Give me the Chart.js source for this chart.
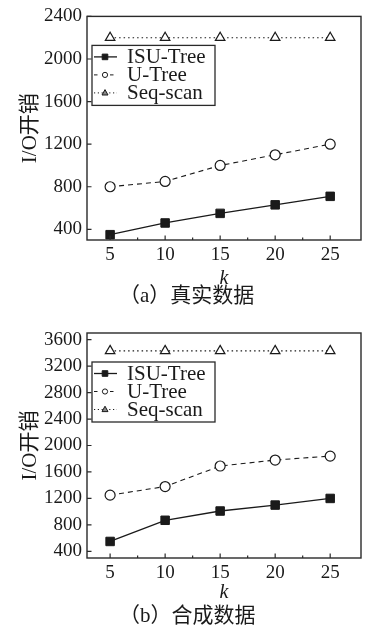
<!DOCTYPE html>
<html><head><meta charset="utf-8">
<script src="https://cdn.jsdelivr.net/npm/chart.js@4/dist/chart.umd.min.js"></script>
<style>
html,body{margin:0;padding:0;background:#fff;}
#wrap{position:relative;width:368px;height:630px;overflow:hidden;}
canvas{position:absolute;left:0;}
</style></head>
<body><div id="wrap">
<canvas id="c1" width="368" height="310" style="top:0"></canvas>
<canvas id="c2" width="368" height="320" style="top:310px"></canvas>
</div>
<script>
const kValues = [5, 10, 15, 20, 25];
const seriesNames = ['ISU-Tree', 'U-Tree', 'Seq-scan'];
const realISU = [350, 460, 550, 630, 710];
const realU = [800, 850, 1000, 1100, 1200];
const realSeq = [2200, 2200, 2200, 2200, 2200];
const synISU = [550, 870, 1010, 1100, 1200];
const synU = [1250, 1380, 1690, 1780, 1840];
const synSeq = [3430, 3430, 3430, 3430, 3430];
const yTicksReal = [400, 800, 1200, 1600, 2000, 2400];
const yTicksSyn = [400, 800, 1200, 1600, 2000, 2400, 2800, 3200, 3600];
const xTicks = [5, 10, 15, 20, 25];
const xMinorTicks = [7.5, 12.5, 17.5, 22.5];
const yTitle = 'I/O开销';
const xTitle = 'k';
const captionReal = '（a）真实数据';
const captionSyn = '（b）合成数据';

const INK = '#1a1a1a';
const SERIF = '"Liberation Serif", "Noto Sans CJK SC", serif';

function pts(vals) { return kValues.map((k, i) => ({x: k, y: vals[i]})); }

function drawMarker(ctx, style, x, y, r, fill) {
  ctx.beginPath();
  if (style === 'rect') {
    ctx.rect(x - r, y - r, 2 * r, 2 * r);
  } else if (style === 'circle') {
    ctx.arc(x, y, r, 0, Math.PI * 2);
  } else {
    ctx.moveTo(x, y - r * 1.1);
    ctx.lineTo(x + r, y + r * 0.7);
    ctx.lineTo(x - r, y + r * 0.7);
    ctx.closePath();
  }
  ctx.fillStyle = fill;
  ctx.fill();
  ctx.lineWidth = 1;
  ctx.strokeStyle = INK;
  ctx.stroke();
}

const decorPlugin = {
  id: 'decor',
  afterDraw(chart, args, opts) {
    const {ctx, chartArea: ca, scales} = chart;
    ctx.save();
    ctx.strokeStyle = '#2a2a2a';
    ctx.lineWidth = 1.4;
    ctx.strokeRect(ca.left, ca.top, ca.right - ca.left, ca.bottom - ca.top);
    ctx.lineWidth = 1.2;
    ctx.beginPath();
    xTicks.forEach(v => { const px = scales.x.getPixelForValue(v); ctx.moveTo(px, ca.bottom); ctx.lineTo(px, ca.bottom - 4.5); });
    xMinorTicks.forEach(v => { const px = scales.x.getPixelForValue(v); ctx.moveTo(px, ca.bottom); ctx.lineTo(px, ca.bottom - 2.5); });
    opts.yTicks.forEach(v => { const py = scales.y.getPixelForValue(v); ctx.moveTo(ca.left, py); ctx.lineTo(ca.left + 4.5, py); });
    ctx.stroke();
    const bx = ca.left + 5, by = ca.top + 29, bw = 123, bh = 60;
    ctx.fillStyle = '#fff';
    ctx.fillRect(bx, by, bw, bh);
    ctx.lineWidth = 1.3;
    ctx.strokeStyle = '#2a2a2a';
    ctx.strokeRect(bx, by, bw, bh);
    const styles = [
      {dash: [], marker: 'rect', r: 2.8, fill: INK, lw: 1.3},
      {dash: [3.5, 4.5], marker: 'circle', r: 2.6, fill: '#fff', lw: 1},
      {dash: [1.2, 2.6], marker: 'triangle', r: 3, fill: '#888', lw: 1}
    ];
    seriesNames.forEach((name, i) => {
      const cy = by + 11.5 + i * 18;
      const s = styles[i];
      ctx.save();
      ctx.setLineDash(s.dash);
      ctx.lineWidth = s.lw;
      ctx.strokeStyle = INK;
      ctx.beginPath();
      ctx.moveTo(bx + 2, cy); ctx.lineTo(bx + 25, cy);
      ctx.stroke();
      ctx.restore();
      drawMarker(ctx, s.marker, bx + 13, cy, s.r, s.fill);
      ctx.fillStyle = INK;
      ctx.font = '21px ' + SERIF;
      ctx.textBaseline = 'middle';
      ctx.textAlign = 'left';
      ctx.fillText(name, bx + 35, cy + 1);
    });
    ctx.fillStyle = INK;
    ctx.font = '21px ' + SERIF;
    ctx.textBaseline = 'middle';
    ctx.textAlign = 'left';
    ctx.fillText(opts.caption, 119, opts.captionY);
    ctx.restore();
  }
};

function makeChart(id, isu, u, seq, yTicks, yMin, yMax, padTop, xHeight, kPad, caption, captionY) {
  return new Chart(document.getElementById(id), {
    type: 'line',
    data: {
      datasets: [
        {label: seriesNames[0], data: pts(isu), borderColor: INK, borderWidth: 1.3,
         pointStyle: 'rect', pointRadius: 6, pointBackgroundColor: INK, pointBorderColor: INK, pointBorderWidth: 1},
        {label: seriesNames[1], data: pts(u), borderColor: INK, borderWidth: 1.1, borderDash: [5, 4],
         pointStyle: 'circle', pointRadius: 5, pointBackgroundColor: '#fff', pointBorderColor: INK, pointBorderWidth: 1.2},
        {label: seriesNames[2], data: pts(seq), borderColor: INK, borderWidth: 1.1, borderDash: [1.5, 3],
         pointStyle: 'triangle', pointRadius: 5.5, pointBackgroundColor: '#fff', pointBorderColor: INK, pointBorderWidth: 1.2}
      ]
    },
    options: {
      responsive: false,
      animation: false,
      devicePixelRatio: 1,
      layout: {padding: {top: padTop, right: 6, left: 0, bottom: 0}},
      plugins: {legend: {display: false}, tooltip: {enabled: false}, decor: {yTicks, caption, captionY}},
      scales: {
        x: {
          type: 'linear', min: 2.9, max: 27.8,
          grid: {display: false, drawTicks: false}, border: {display: false},
          afterBuildTicks: s => { s.ticks = xTicks.map(v => ({value: v})); },
          afterFit: s => { s.height = xHeight; },
          ticks: {padding: 4, color: INK, font: {family: SERIF, size: 19}, callback: v => String(v)},
          title: {display: true, text: xTitle, color: INK, padding: {top: 0, bottom: kPad},
                  font: {family: SERIF, size: 20, style: 'italic'}}
        },
        y: {
          type: 'linear', min: yMin, max: yMax,
          grid: {display: false, drawTicks: false}, border: {display: false},
          afterBuildTicks: s => { s.ticks = yTicks.map(v => ({value: v})); },
          afterFit: s => { s.width = 87; },
          ticks: {padding: 5, color: INK, font: {family: SERIF, size: 19}, callback: v => String(v)},
          title: {display: true, text: yTitle, color: INK, padding: {top: 18, bottom: 0},
                  font: {family: SERIF, size: 21}}
        }
      }
    },
    plugins: [decorPlugin]
  });
}

makeChart('c1', realISU, realU, realSeq, yTicksReal, 300, 2400, 13, 70, 19, captionReal, 296);
makeChart('c2', synISU, synU, synSeq, yTicksSyn, 300, 3700, 23, 72, 25, captionSyn, 306);
</script>
</body></html>
